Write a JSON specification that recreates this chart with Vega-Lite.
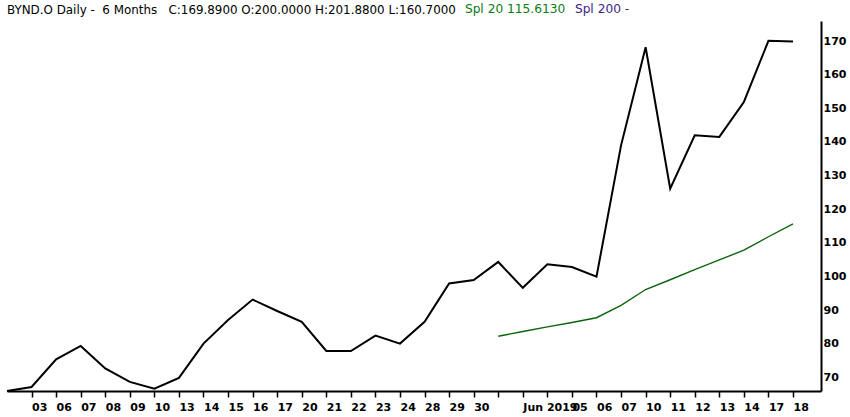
{
  "$schema": "https://vega.github.io/schema/vega-lite/v6.json",
  "autosize": "none",
  "width": 814,
  "height": 370,
  "padding": {"left": 7, "top": 21, "right": 29, "bottom": 26},
  "background": "white",
  "config": {
    "view": {"stroke": null},
    "axis": {"grid": false},
    "axisY": {"labelOverlap": false}
  },
  "datasets": {
    "price": [
      {"date": "2019-05-02", "close": 65.9},
      {"date": "2019-05-03", "close": 67.1},
      {"date": "2019-05-06", "close": 75.3},
      {"date": "2019-05-07", "close": 79.3},
      {"date": "2019-05-08", "close": 72.6},
      {"date": "2019-05-09", "close": 68.6},
      {"date": "2019-05-10", "close": 66.6},
      {"date": "2019-05-13", "close": 69.8},
      {"date": "2019-05-14", "close": 80.0},
      {"date": "2019-05-15", "close": 87.0},
      {"date": "2019-05-16", "close": 93.1},
      {"date": "2019-05-17", "close": 89.7},
      {"date": "2019-05-20", "close": 86.5},
      {"date": "2019-05-21", "close": 77.8},
      {"date": "2019-05-22", "close": 77.8},
      {"date": "2019-05-23", "close": 82.4},
      {"date": "2019-05-24", "close": 80.0},
      {"date": "2019-05-28", "close": 86.5},
      {"date": "2019-05-29", "close": 97.9},
      {"date": "2019-05-30", "close": 98.9},
      {"date": "2019-05-31", "close": 104.3},
      {"date": "2019-06-03", "close": 96.6},
      {"date": "2019-06-04", "close": 103.6},
      {"date": "2019-06-05", "close": 102.8},
      {"date": "2019-06-06", "close": 99.9},
      {"date": "2019-06-07", "close": 139.0},
      {"date": "2019-06-10", "close": 168.2},
      {"date": "2019-06-11", "close": 126.1},
      {"date": "2019-06-12", "close": 142.0},
      {"date": "2019-06-13", "close": 141.5},
      {"date": "2019-06-14", "close": 151.9},
      {"date": "2019-06-17", "close": 170.1},
      {"date": "2019-06-18", "close": 169.9}
    ],
    "sma": [
      {"date": "2019-05-31", "value": 82.2, "series": "Spl 20 115.6130"},
      {"date": "2019-06-03", "value": 83.6, "series": "Spl 20 115.6130"},
      {"date": "2019-06-04", "value": 85.0, "series": "Spl 20 115.6130"},
      {"date": "2019-06-05", "value": 86.3, "series": "Spl 20 115.6130"},
      {"date": "2019-06-06", "value": 87.7, "series": "Spl 20 115.6130"},
      {"date": "2019-06-07", "value": 91.4, "series": "Spl 20 115.6130"},
      {"date": "2019-06-10", "value": 96.1, "series": "Spl 20 115.6130"},
      {"date": "2019-06-11", "value": 99.0, "series": "Spl 20 115.6130"},
      {"date": "2019-06-12", "value": 102.0, "series": "Spl 20 115.6130"},
      {"date": "2019-06-13", "value": 104.9, "series": "Spl 20 115.6130"},
      {"date": "2019-06-14", "value": 107.8, "series": "Spl 20 115.6130"},
      {"date": "2019-06-17", "value": 111.8, "series": "Spl 20 115.6130"},
      {"date": "2019-06-18", "value": 115.6, "series": "Spl 20 115.6130"}
    ]
  },
  "encoding": {
    "x": {
      "field": "date",
      "type": "ordinal",
      "sort": "ascending",
      "scale": {"type": "point", "padding": 0.57, "align": 0},
      "axis": {
        "title": null,
        "orient": "bottom",
        "values": ["2019-05-03","2019-05-06","2019-05-07","2019-05-08","2019-05-09","2019-05-10","2019-05-13","2019-05-14","2019-05-15","2019-05-16","2019-05-17","2019-05-20","2019-05-21","2019-05-22","2019-05-23","2019-05-24","2019-05-28","2019-05-29","2019-05-30","2019-05-31","2019-06-03","2019-06-04","2019-06-05","2019-06-06","2019-06-07","2019-06-10","2019-06-11","2019-06-12","2019-06-13","2019-06-14","2019-06-17","2019-06-18"],
        "labelExpr": "datum.value == '2019-06-03' ? 'Jun 2019' : ((datum.value == '2019-05-31' || datum.value == '2019-06-04') ? '' : substring(datum.value, 8, 10))",
        "labelAngle": 0,
        "labelAlign": "left",
        "labelBaseline": "top",
        "labelPadding": 4,
        "labelOverlap": false,
        "labelFont": "DejaVu Sans",
        "labelFontSize": 11,
        "labelFontWeight": "bold",
        "labelColor": "#000000",
        "tickSize": 6,
        "tickWidth": 1.5,
        "tickColor": "#000000",
        "domainColor": "#000000",
        "domainWidth": 2
      }
    }
  },
  "layer": [
    {
      "data": {"name": "price"},
      "mark": {"type": "line", "color": "#000000", "strokeWidth": 2},
      "encoding": {
        "y": {
          "field": "close",
          "type": "quantitative",
          "scale": {"domain": [65.9, 176], "nice": false, "zero": false},
          "axis": {
            "title": null,
            "orient": "right",
            "values": [70, 80, 90, 100, 110, 120, 130, 140, 150, 160, 170],
            "tickSize": 0,
            "labelPadding": 2,
            "labelAlign": "left",
            "labelBaseline": "middle",
            "labelOverlap": false,
            "labelFont": "DejaVu Sans",
            "labelFontSize": 11,
            "labelFontWeight": "bold",
            "labelColor": "#000000",
            "domainColor": "#000000",
            "domainWidth": 2
          }
        }
      }
    },
    {
      "data": {"name": "sma"},
      "mark": {"type": "line", "strokeWidth": 1.4},
      "encoding": {
        "y": {
          "field": "value",
          "type": "quantitative",
          "axis": {
            "title": null,
            "orient": "right",
            "values": [70, 80, 90, 100, 110, 120, 130, 140, 150, 160, 170],
            "tickSize": 0,
            "labelPadding": 2,
            "labelAlign": "left",
            "labelBaseline": "middle",
            "labelOverlap": false,
            "labelFont": "DejaVu Sans",
            "labelFontSize": 11,
            "labelFontWeight": "bold",
            "labelColor": "#000000",
            "domainColor": "#000000",
            "domainWidth": 2
          }
        },
        "color": {
          "field": "series",
          "type": "nominal",
          "scale": {
            "domain": ["BYND.O Daily -\u00a0\u00a06 Months\u00a0\u00a0\u00a0C:169.8900 O:200.0000 H:201.8800 L:160.7000", "Spl 20 115.6130", "Spl 200 -"],
            "range": ["#000000", "#0b640b", "#3c2585"]
          },
          "legend": {
            "title": null,
            "orient": "none",
            "legendX": -4,
            "legendY": -18,
            "direction": "horizontal",
            "columns": 3,
            "columnPadding": 5,
            "symbolSize": 1,
            "symbolOpacity": 0,
            "symbolStrokeWidth": 0,
            "labelOffset": -8,
            "labelLimit": 600,
            "labelFont": "DejaVu Sans",
            "labelFontSize": {"expr": "(datum.value == 'Spl 20 115.6130' || datum.value == 'Spl 200 -') ? 12.2 : 11.9"},
            "labelColor": {"expr": "datum.value == 'Spl 200 -' ? '#3c2585' : (datum.value == 'Spl 20 115.6130' ? '#0a7a14' : '#000000')"},
            "padding": 0
          }
        }
      }
    }
  ]
}
